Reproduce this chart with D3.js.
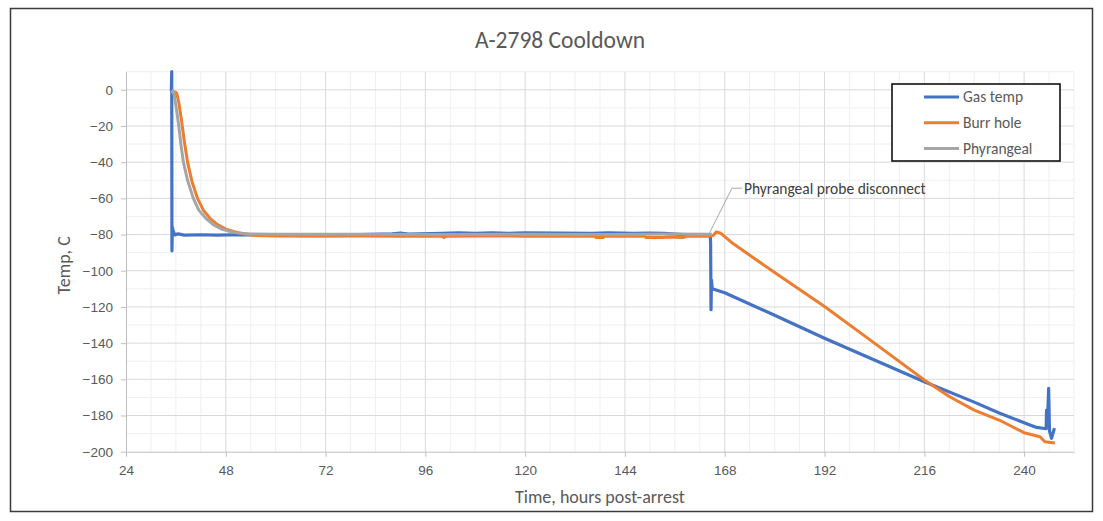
<!DOCTYPE html>
<html>
<head>
<meta charset="utf-8">
<script src="https://cdn.jsdelivr.net/npm/d3@7"></script>
<style>
  body { margin: 0; background: #fff; }
  svg { display: block; font-family: Carlito, Calibri, Lato, sans-serif; }
</style>
</head>
<body>
<svg id="chart" width="1103" height="521"></svg>
<script>
// series as [hours post-arrest, temp C]
const gasTemp = [
  [34.9, -1], [35.0, 10], [35.05, -89], [35.15, -76], [35.4, -78.5], [35.8, -80.2], [36.5, -79.6],
  [38, -80.3], [42, -80.1], [46, -80.3], [50, -80.1], [55, -80.2], [60, -80], [70, -80.1], [80, -80],
  [88, -79.6], [90, -79.2], [92, -79.7], [100, -79.4], [104, -79.1], [108, -79.4], [112, -79.1],
  [116, -79.3], [120, -79.1], [128, -79.2], [136, -79.4], [140, -79.1], [146, -79.3], [150, -79.2],
  [153.5, -79.4], [158, -80], [164.5, -80], [164.6, -84.5], [164.7, -121.5], [164.8, -105],
  [165.0, -110], [168, -112.2], [180, -124.6], [192, -137.3], [204, -149.3], [216, -161.3],
  [228, -172.6], [234, -178.6], [240, -184], [243, -186.6], [245.3, -187.3], [245.4, -177],
  [245.6, -186], [245.9, -165], [246.1, -188.5], [246.6, -192.6], [247.3, -187]
]
const burrHole = [
  [35.6, -3], [35.9, -1.3], [36.2, -2], [36.7, -7], [37.3, -16], [38.0, -28], [38.8, -40],
  [39.9, -51], [41.2, -60], [42.6, -66.5], [44.2, -71], [46, -74.5], [48, -77], [49.7, -78.2],
  [52, -79.5], [55, -80.5], [60, -80.8], [70, -80.9], [80, -80.8], [90, -80.9], [100, -80.9],
  [100.5, -81.7], [101, -80.9], [110, -80.8], [120, -80.9], [130, -80.9], [136.8, -80.9],
  [137, -81.6], [138.8, -81.6], [139, -80.9], [148.8, -81], [149, -81.6], [153, -81.6],
  [154, -81.4], [158, -81.6], [159, -80.9], [164, -80.9], [165.2, -80.5], [166, -78.5],
  [167, -79.2], [170, -85], [180, -101], [192, -119.8], [204, -140], [216, -160.4],
  [222, -169.5], [228, -177], [234, -182.5], [240, -189.5], [243.8, -191.7], [245, -194.5],
  [247.4, -195.2]
]
const phyrangeal = [
  [35.1, -2], [35.3, -0.4], [35.6, -3], [36.1, -10], [36.7, -20], [37.2, -30], [37.8, -40],
  [38.8, -50], [40.2, -60], [41.5, -66.5], [43.2, -71], [45, -74.5], [46.8, -76.8], [48.5, -78],
  [51, -79.2], [54, -79.7], [60, -79.8], [80, -79.8], [100, -79.9], [120, -79.8], [140, -79.9],
  [155, -79.7], [164.9, -79.8]
]

const seriesNames = ['Gas temp', 'Burr hole', 'Phyrangeal']
const seriesColors = ['#4472C4', '#ED7D31', '#A5A5A5']
const xTicks = [24, 48, 72, 96, 120, 144, 168, 192, 216, 240]
const yTicks = [0, -20, -40, -60, -80, -100, -120, -140, -160, -180, -200]

const title = 'A-2798 Cooldown'
const xTitle = 'Time, hours post-arrest'
const yTitle = 'Temp, C'
const note = 'Phyrangeal probe disconnect'

const textColor = '#595959'
const svg = d3.select('#chart')

// chart frame
svg.append('rect')
  .attr('x', 10.5).attr('y', 8.5).attr('width', 1082).attr('height', 503)
  .attr('fill', '#fff').attr('stroke', '#3a3a3a').attr('stroke-width', 1.5)

const x = d3.scaleLinear().domain([24, 252]).range([126, 1074])
const y = d3.scaleLinear().domain([-200, 10]).range([451.7, 71.7])

const grid = svg.append('g')
grid.selectAll('.vminor')
  .data(d3.range(30, 253, 6).filter(v => v % 24 !== 0))
  .enter().append('line')
  .attr('x1', d => x(d)).attr('x2', d => x(d))
  .attr('y1', y(10)).attr('y2', y(-200))
  .attr('stroke', '#efefef')
grid.selectAll('.hminor')
  .data(d3.range(-190, 11, 10).filter(v => v % 20 !== 0))
  .enter().append('line')
  .attr('x1', x(24)).attr('x2', x(252))
  .attr('y1', d => y(d)).attr('y2', d => y(d))
  .attr('stroke', '#efefef')
grid.selectAll('.vmajor')
  .data(xTicks.slice(1))
  .enter().append('line')
  .attr('x1', d => x(d)).attr('x2', d => x(d))
  .attr('y1', y(10)).attr('y2', y(-200))
  .attr('stroke', '#d9d9d9')
grid.selectAll('.hmajor')
  .data(yTicks.slice(0, -1))
  .enter().append('line')
  .attr('x1', x(24)).attr('x2', x(252))
  .attr('y1', d => y(d)).attr('y2', d => y(d))
  .attr('stroke', '#d9d9d9')

// axes
const xAxis = svg.append('g')
  .attr('transform', `translate(0,${y(-200)})`)
  .call(d3.axisBottom(x).tickValues(xTicks).tickSize(5).tickSizeOuter(0).tickPadding(9))
const yAxis = svg.append('g')
  .attr('transform', `translate(${x(24)},0)`)
  .call(d3.axisLeft(y).tickValues(yTicks).tickSize(5).tickSizeOuter(0).tickPadding(8))
;[xAxis, yAxis].forEach(a => {
  a.selectAll('path, line').attr('stroke', '#bfbfbf')
  a.selectAll('text').attr('fill', textColor).style('font-size', '13.5px')
})

// data lines
const line = d3.line().x(d => x(d[0])).y(d => y(d[1]))
const plot = svg.append('g')
;[gasTemp, burrHole, phyrangeal].forEach((s, i) => {
  plot.append('path')
    .datum(s)
    .attr('d', line)
    .attr('fill', 'none')
    .attr('stroke', seriesColors[i])
    .attr('stroke-width', i === 0 ? 3.2 : 3)
    .attr('stroke-linejoin', 'round')
})

// annotation with leader line
const ax = x(164.2), ay = y(-79.8)
svg.append('path')
  .attr('d', `M${ax},${ay} L${ax + 23},${ay - 46} L${ax + 33},${ay - 46}`)
  .attr('fill', 'none').attr('stroke', '#a6a6a6')
svg.append('text')
  .attr('x', ax + 35).attr('y', ay - 46)
  .attr('dy', '0.35em')
  .attr('fill', '#404040')
  .style('font-size', '15.5px')
  .text(note)

// titles
svg.append('text')
  .attr('x', 560).attr('y', 48)
  .attr('text-anchor', 'middle')
  .attr('fill', textColor)
  .style('font-size', '23.5px')
  .text(title)
svg.append('text')
  .attr('x', 600).attr('y', 503)
  .attr('text-anchor', 'middle')
  .attr('fill', textColor)
  .style('font-size', '18px')
  .text(xTitle)
svg.append('text')
  .attr('transform', `translate(70,${y(-97)}) rotate(-90)`)
  .attr('text-anchor', 'middle')
  .attr('fill', textColor)
  .style('font-size', '18px')
  .text(yTitle)

// legend
const legend = svg.append('g')
legend.append('rect')
  .attr('x', 892).attr('y', 84).attr('width', 168).attr('height', 77)
  .attr('fill', '#fff').attr('stroke', '#000').attr('stroke-width', 1.5)
const item = legend.selectAll('.item')
  .data(seriesNames)
  .enter().append('g')
  .attr('transform', (d, i) => `translate(0,${97 + i * 25.8})`)
item.append('line')
  .attr('x1', 924).attr('x2', 959)
  .attr('stroke', (d, i) => seriesColors[i])
  .attr('stroke-width', 3)
item.append('text')
  .attr('x', 963).attr('dy', '0.35em')
  .attr('fill', textColor)
  .style('font-size', '15.5px')
  .text(d => d)
</script>
</body>
</html>
